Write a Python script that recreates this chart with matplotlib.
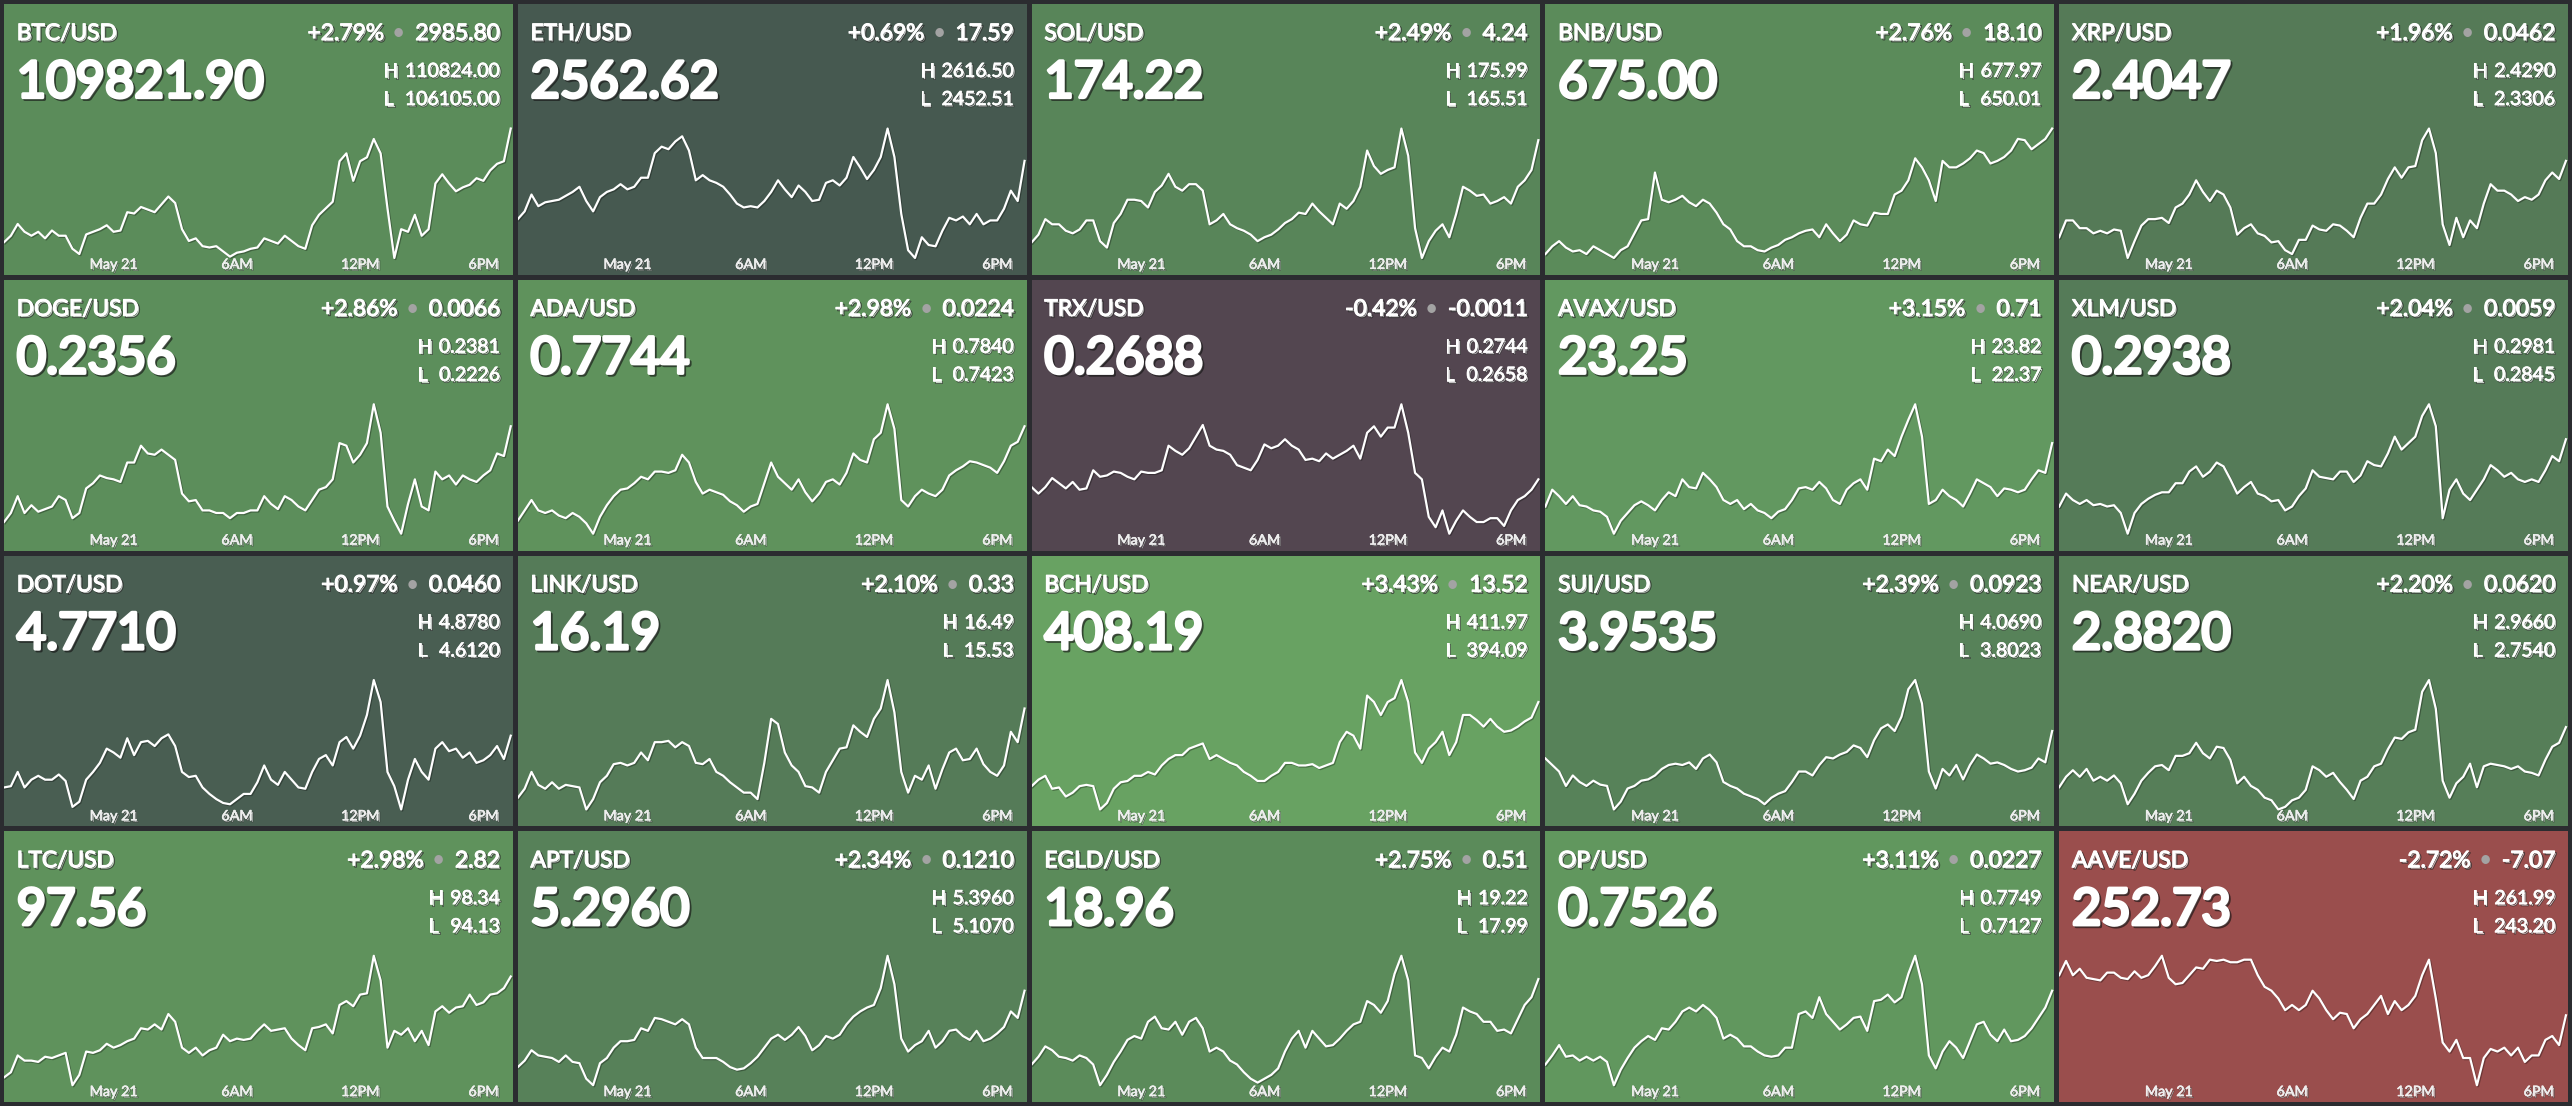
import numpy as np
import pandas as pd
import matplotlib
matplotlib.use("Agg")
import matplotlib.pyplot as plt
import matplotlib.dates as mdates
import matplotlib.patheffects as pe
from matplotlib import transforms

plt.rcParams["font.family"] = ["Lato", "DejaVu Sans"]

# ---- tile data ----
symbols = ["BTC/USD", "ETH/USD", "SOL/USD", "BNB/USD", "XRP/USD",
           "DOGE/USD", "ADA/USD", "TRX/USD", "AVAX/USD", "XLM/USD",
           "DOT/USD", "LINK/USD", "BCH/USD", "SUI/USD", "NEAR/USD",
           "LTC/USD", "APT/USD", "EGLD/USD", "OP/USD", "AAVE/USD"]
prices = ["109821.90", "2562.62", "174.22", "675.00", "2.4047",
          "0.2356", "0.7744", "0.2688", "23.25", "0.2938",
          "4.7710", "16.19", "408.19", "3.9535", "2.8820",
          "97.56", "5.2960", "18.96", "0.7526", "252.73"]
pct_changes = ["+2.79%", "+0.69%", "+2.49%", "+2.76%", "+1.96%",
               "+2.86%", "+2.98%", "-0.42%", "+3.15%", "+2.04%",
               "+0.97%", "+2.10%", "+3.43%", "+2.39%", "+2.20%",
               "+2.98%", "+2.34%", "+2.75%", "+3.11%", "-2.72%"]
abs_changes = ["2985.80", "17.59", "4.24", "18.10", "0.0462",
               "0.0066", "0.0224", "-0.0011", "0.71", "0.0059",
               "0.0460", "0.33", "13.52", "0.0923", "0.0620",
               "2.82", "0.1210", "0.51", "0.0227", "-7.07"]
highs = ["110824.00", "2616.50", "175.99", "677.97", "2.4290",
         "0.2381", "0.7840", "0.2744", "23.82", "0.2981",
         "4.8780", "16.49", "411.97", "4.0690", "2.9660",
         "98.34", "5.3960", "19.22", "0.7749", "261.99"]
lows = ["106105.00", "2452.51", "165.51", "650.01", "2.3306",
        "0.2226", "0.7423", "0.2658", "22.37", "0.2845",
        "4.6120", "15.53", "394.09", "3.8023", "2.7540",
        "94.13", "5.1070", "17.99", "0.7127", "243.20"]

tile_colors = ["#5b8c5a", "#465950", "#588559", "#5b8b5a", "#557a57",
               "#5c8e5b", "#5f925c", "#534650", "#629860", "#557b58",
               "#495e52", "#557b58", "#68a262", "#578259", "#567e58",
               "#5f925c", "#578159", "#5b8b5a", "#61975e", "#9a4e4d"]

times = pd.date_range("2025-05-20 18:40", periods=75, freq="20min")
tick_times = pd.to_datetime(["2025-05-21 00:00", "2025-05-21 06:00",
                             "2025-05-21 12:00", "2025-05-21 18:00"])
tick_labels = ["May 21", "6AM", "12PM", "6PM"]

# price path every 20 min, as % of the drawn range (0 = low, 100 = high)
btc = [13, 18, 27, 21, 18, 21, 16, 22, 18, 18,
       8, 4, 19, 21, 23, 26, 21, 22, 36, 35,
       40, 38, 36, 42, 48, 43, 23, 14, 16, 10,
       9, 10, 6, 2, 5, 6, 8, 9, 16, 14,
       12, 18, 14, 10, 8, 26, 34, 39, 44, 75,
       81, 60, 75, 78, 92, 81, 39, 1, 23, 21,
       34, 18, 23, 58, 65, 58, 52, 55, 57, 62,
       60, 68, 73, 75, 100]
eth = [30, 36, 49, 40, 43, 44, 45, 48, 51, 55,
       44, 36, 47, 51, 53, 57, 53, 55, 62, 62,
       81, 86, 84, 90, 94, 83, 60, 64, 60, 58,
       55, 49, 42, 39, 40, 39, 44, 51, 60, 53,
       47, 56, 51, 44, 45, 58, 60, 56, 62, 78,
       70, 61, 68, 78, 100, 78, 34, 6, 0, 16,
       10, 9, 21, 31, 29, 32, 26, 34, 26, 29,
       29, 38, 52, 44, 75]
sol = [12, 18, 30, 26, 26, 21, 19, 22, 29, 29,
       13, 8, 27, 34, 45, 45, 44, 39, 51, 56,
       65, 55, 52, 57, 57, 52, 26, 29, 34, 26,
       23, 21, 18, 13, 16, 18, 22, 27, 30, 35,
       34, 42, 36, 31, 26, 42, 38, 44, 55, 83,
       71, 65, 68, 70, 100, 79, 23, 0, 13, 21,
       26, 16, 34, 55, 52, 48, 49, 42, 44, 47,
       42, 55, 60, 68, 91]
bnb = [3, 9, 13, 8, 5, 6, 3, 9, 6, 3,
       0, 6, 9, 19, 29, 30, 66, 45, 43, 45,
       48, 43, 40, 45, 42, 35, 26, 22, 13, 9,
       9, 6, 5, 8, 10, 14, 16, 19, 21, 22,
       16, 26, 19, 13, 18, 29, 26, 25, 35, 34,
       34, 49, 52, 60, 77, 70, 60, 44, 75, 70,
       70, 73, 77, 83, 81, 73, 75, 78, 83, 92,
       91, 84, 88, 92, 100]
xrp = [16, 29, 29, 23, 23, 19, 21, 19, 22, 21,
       0, 13, 25, 30, 30, 31, 27, 39, 42, 49,
       60, 51, 44, 52, 49, 39, 18, 23, 26, 19,
       17, 12, 13, 6, 3, 14, 14, 25, 22, 21,
       26, 25, 21, 16, 31, 42, 42, 49, 61, 70,
       62, 70, 71, 91, 100, 81, 26, 10, 31, 16,
       29, 23, 42, 57, 52, 52, 49, 44, 47, 45,
       49, 60, 66, 61, 75]
doge = [9, 16, 29, 16, 22, 17, 19, 21, 29, 26,
        12, 16, 35, 39, 45, 43, 42, 40, 55, 55,
        68, 62, 61, 65, 61, 57, 31, 25, 26, 18,
        18, 16, 16, 12, 16, 16, 18, 18, 29, 23,
        19, 29, 26, 21, 18, 26, 34, 36, 42, 70,
        68, 55, 61, 70, 100, 78, 21, 10, 0, 23,
        42, 21, 18, 48, 42, 45, 38, 45, 42, 40,
        45, 49, 62, 60, 83]
ada = [10, 18, 26, 18, 16, 18, 14, 12, 16, 13,
       8, 0, 13, 22, 29, 34, 35, 39, 44, 42,
       48, 48, 47, 49, 61, 55, 40, 31, 34, 32,
       30, 25, 22, 17, 21, 23, 39, 55, 44, 39,
       34, 42, 32, 25, 31, 40, 42, 38, 47, 62,
       57, 55, 73, 78, 100, 81, 26, 21, 29, 34,
       31, 29, 34, 45, 49, 52, 56, 55, 53, 51,
       47, 56, 68, 71, 83]
trx = [36, 31, 36, 43, 39, 35, 40, 34, 35, 49,
       44, 45, 48, 47, 44, 42, 48, 47, 47, 49,
       68, 64, 61, 66, 75, 84, 68, 65, 64, 61,
       53, 51, 49, 57, 69, 66, 68, 73, 68, 65,
       57, 58, 56, 62, 58, 61, 64, 68, 58, 78,
       83, 75, 82, 82, 100, 78, 47, 42, 13, 5,
       18, 0, 10, 18, 13, 9, 9, 12, 12, 6,
       18, 26, 29, 34, 42]
avax = [21, 34, 29, 23, 29, 22, 21, 18, 17, 13,
        0, 10, 16, 22, 25, 22, 18, 26, 32, 29,
        42, 36, 35, 47, 42, 36, 26, 23, 26, 19,
        23, 18, 16, 12, 17, 19, 26, 35, 36, 34,
        40, 35, 26, 23, 34, 39, 42, 34, 58, 56,
        65, 60, 75, 88, 100, 75, 23, 26, 34, 29,
        26, 21, 31, 42, 39, 36, 29, 35, 34, 32,
        34, 42, 49, 47, 70]
xlm = [21, 31, 26, 23, 26, 22, 23, 21, 22, 16,
       0, 16, 23, 27, 30, 32, 32, 39, 39, 48,
       52, 44, 48, 55, 52, 42, 31, 36, 40, 31,
       29, 25, 26, 18, 21, 29, 35, 49, 44, 43,
       42, 48, 48, 40, 45, 56, 53, 52, 62, 75,
       65, 70, 75, 91, 100, 83, 12, 34, 42, 31,
       26, 34, 42, 53, 49, 44, 47, 42, 40, 42,
       40, 49, 60, 56, 73]
dot = [17, 18, 29, 17, 23, 26, 23, 23, 27, 22,
       2, 6, 23, 29, 36, 47, 44, 40, 55, 42,
       52, 53, 49, 55, 58, 49, 29, 25, 26, 17,
       12, 8, 5, 4, 8, 12, 12, 21, 34, 23,
       19, 29, 23, 17, 16, 29, 39, 42, 34, 52,
       56, 47, 57, 73, 100, 83, 29, 18, 0, 23,
       39, 29, 23, 47, 52, 45, 47, 40, 44, 36,
       38, 42, 49, 39, 57]
link = [9, 16, 29, 19, 16, 21, 16, 19, 18, 17,
        0, 8, 21, 26, 35, 36, 34, 36, 44, 38,
        52, 52, 53, 48, 52, 49, 36, 35, 39, 29,
        26, 21, 17, 13, 13, 8, 36, 70, 66, 44,
        34, 29, 18, 17, 13, 29, 38, 47, 48, 65,
        60, 56, 70, 78, 100, 75, 29, 13, 26, 23,
        34, 16, 31, 44, 47, 38, 39, 47, 35, 29,
        26, 34, 60, 52, 78]
bch = [18, 23, 26, 16, 17, 10, 13, 18, 19, 18,
       0, 5, 16, 21, 22, 26, 26, 29, 27, 34,
       39, 42, 42, 47, 49, 51, 39, 42, 39, 36,
       34, 29, 26, 22, 22, 26, 29, 36, 36, 34,
       34, 35, 32, 34, 36, 52, 60, 57, 47, 88,
       83, 73, 83, 86, 100, 83, 44, 36, 47, 52,
       60, 42, 52, 73, 73, 69, 64, 70, 64, 60,
       61, 64, 68, 71, 83]
sui = [39, 34, 29, 18, 26, 21, 18, 22, 19, 18,
       0, 6, 16, 18, 22, 23, 26, 31, 34, 35,
       34, 36, 31, 39, 42, 36, 21, 18, 16, 12,
       10, 8, 4, 9, 12, 14, 21, 29, 29, 26,
       34, 40, 39, 42, 44, 49, 47, 40, 53, 62,
       65, 60, 71, 92, 99, 81, 29, 16, 31, 26,
       34, 23, 34, 42, 39, 35, 36, 34, 31, 29,
       30, 32, 39, 36, 60]
near = [18, 26, 31, 26, 32, 23, 26, 23, 27, 21,
        5, 13, 23, 29, 34, 35, 31, 42, 42, 44,
        52, 44, 40, 49, 48, 39, 21, 26, 19, 16,
        10, 8, 1, 3, 8, 10, 16, 34, 31, 26,
        29, 22, 16, 9, 23, 26, 34, 36, 47, 56,
        55, 60, 62, 91, 100, 78, 23, 10, 21, 26,
        36, 18, 34, 36, 35, 34, 32, 34, 30, 29,
        27, 39, 49, 52, 64]
ltc = [6, 10, 23, 19, 19, 18, 22, 21, 23, 25,
       0, 8, 26, 25, 27, 32, 29, 31, 34, 36,
       44, 43, 47, 43, 55, 49, 29, 25, 29, 23,
       27, 29, 39, 34, 36, 35, 36, 42, 47, 42,
       43, 44, 36, 31, 27, 44, 45, 47, 40, 62,
       65, 61, 70, 71, 100, 81, 29, 42, 39, 44,
       34, 42, 31, 57, 61, 56, 60, 61, 70, 62,
       64, 70, 71, 75, 84]
apt = [14, 19, 27, 23, 22, 21, 18, 23, 18, 17,
       5, 0, 17, 21, 29, 34, 34, 35, 44, 42,
       52, 51, 49, 47, 51, 47, 29, 21, 21, 21,
       18, 14, 12, 13, 17, 22, 29, 36, 39, 35,
       39, 45, 38, 27, 31, 38, 36, 39, 47, 53,
       57, 60, 62, 75, 100, 78, 36, 26, 31, 34,
       42, 29, 34, 42, 43, 38, 35, 42, 34, 36,
       40, 45, 57, 52, 73]
egld = [16, 22, 30, 27, 22, 21, 19, 23, 21, 16,
        0, 8, 18, 26, 35, 38, 36, 49, 53, 44,
        43, 49, 39, 49, 52, 44, 26, 29, 26, 19,
        16, 10, 5, 2, 5, 8, 13, 26, 36, 42,
        29, 42, 36, 30, 31, 36, 42, 47, 49, 65,
        62, 56, 65, 86, 100, 81, 23, 21, 13, 22,
        29, 26, 39, 60, 57, 55, 49, 49, 42, 43,
        40, 51, 62, 68, 82]
op = [16, 23, 31, 22, 23, 19, 22, 19, 22, 18,
      0, 12, 21, 29, 34, 38, 35, 44, 43, 49,
      57, 60, 57, 62, 58, 52, 36, 39, 36, 30,
      30, 26, 23, 22, 23, 29, 29, 55, 57, 52,
      68, 55, 49, 43, 47, 52, 53, 42, 65, 66,
      70, 64, 68, 86, 100, 78, 23, 13, 26, 34,
      29, 21, 34, 47, 49, 39, 34, 43, 34, 35,
      38, 44, 52, 60, 73]
aave = [85, 96, 85, 90, 83, 82, 81, 87, 87, 83,
        82, 88, 83, 85, 92, 100, 83, 78, 79, 85,
        91, 90, 97, 96, 97, 95, 95, 97, 97, 85,
        76, 73, 67, 58, 62, 58, 62, 73, 67, 58,
        51, 56, 55, 44, 51, 55, 62, 69, 55, 65,
        58, 62, 69, 85, 97, 67, 33, 26, 35, 21,
        21, 0, 21, 28, 26, 29, 23, 29, 18, 23,
        23, 35, 38, 31, 54]

series = [btc, eth, sol, bnb, xrp, doge, ada, trx, avax, xlm,
          dot, link, bch, sui, near, ltc, apt, egld, op, aave]

# ---- layout ----
W, H = 2572, 1106
edge, gap = 4, 5
tile_w = (W - 2 * edge - 4 * gap) / 5
tile_h = (H - 2 * edge - 3 * gap) / 4

fig = plt.figure(figsize=(W / 100, H / 100), dpi=100, facecolor="#2b2c30")
renderer = fig.canvas.get_renderer()


def heavy(width):
    # drop shadow plus an outline that thickens the glyphs
    return [pe.Stroke(offset=(1.3, -1.3), linewidth=width, foreground="#151515", alpha=0.65),
            pe.Stroke(linewidth=width, foreground="white"),
            pe.Normal()]


line_fx = [pe.SimpleLineShadow(offset=(0.8, -0.8), shadow_color="black", alpha=0.3), pe.Normal()]

for k, sym in enumerate(symbols):
    row, col = divmod(k, 5)
    x0 = edge + col * (tile_w + gap)
    y0 = H - edge - (row + 1) * tile_h - row * gap
    ax = fig.add_axes([x0 / W, y0 / H, tile_w / W, tile_h / H])
    ax.set_facecolor(tile_colors[k])
    for s in ax.spines.values():
        s.set_visible(False)
    ax.set_xticks([])
    ax.set_yticks([])

    vals = np.array(series[k], dtype=float)
    lo, hi = vals.min(), vals.max()
    span = hi - lo
    ax.set_ylim(lo - span * 0.062 / 0.478, hi + span * 0.46 / 0.478)
    ax.set_xlim(times[0], times[-1] + pd.Timedelta(minutes=6))
    ax.plot(times, vals, color="white", lw=1.6, solid_joinstyle="round",
            path_effects=line_fx)

    # time labels along the bottom
    tr = transforms.blended_transform_factory(ax.transData, ax.transAxes)
    for t, lab in zip(tick_times, tick_labels):
        ax.text(mdates.date2num(t), 0.022, lab, transform=tr, ha="center",
                va="baseline", fontsize=10.3, color="#eeeeee", path_effects=heavy(0.35))

    kw = dict(transform=ax.transAxes, color="white")
    ax.text(0.025, 0.867, sym, ha="left", va="baseline", fontsize=16.4,
            path_effects=heavy(0.8), **kw)
    ax.text(0.025, 0.655, prices[k], ha="left", va="baseline", fontsize=36.5,
            path_effects=heavy(2.5), **kw)

    # change line: "+2.79%  •  2985.80"
    chg = ax.text(0.975, 0.867, abs_changes[k], ha="right", va="baseline",
                  fontsize=16.4, path_effects=heavy(0.8), **kw)
    bb = chg.get_window_extent(renderer)
    xl = ax.transAxes.inverted().transform((bb.x0, bb.y0))[0]
    ax.text(xl, 0.867, "\u2022", ha="center", va="baseline", fontsize=16.4,
            color="#a3a3a3",
            transform=transforms.offset_copy(ax.transAxes, fig, x=-12, y=0, units="points"))
    ax.text(xl, 0.867, pct_changes[k], ha="right", va="baseline", fontsize=16.4,
            color="white", path_effects=heavy(0.8),
            transform=transforms.offset_copy(ax.transAxes, fig, x=-22.5, y=0, units="points"))

    # high / low
    ht = ax.text(0.975, 0.731, highs[k], ha="right", va="baseline", fontsize=14,
                 path_effects=heavy(0.55), **kw)
    lt = ax.text(0.975, 0.627, lows[k], ha="right", va="baseline", fontsize=14,
                 path_effects=heavy(0.55), **kw)
    left = min(ht.get_window_extent(renderer).x0, lt.get_window_extent(renderer).x0)
    xl = ax.transAxes.inverted().transform((left, 0))[0]
    off = transforms.offset_copy(ax.transAxes, fig, x=-15.6, y=0, units="points")
    ax.text(xl, 0.731, "H", ha="left", va="baseline", fontsize=14,
            color="white", path_effects=heavy(0.55), transform=off)
    ax.text(xl, 0.627, "L", ha="left", va="baseline", fontsize=14,
            color="white", path_effects=heavy(0.55), transform=off)

fig.savefig("out.png", dpi=100, facecolor=fig.get_facecolor())
